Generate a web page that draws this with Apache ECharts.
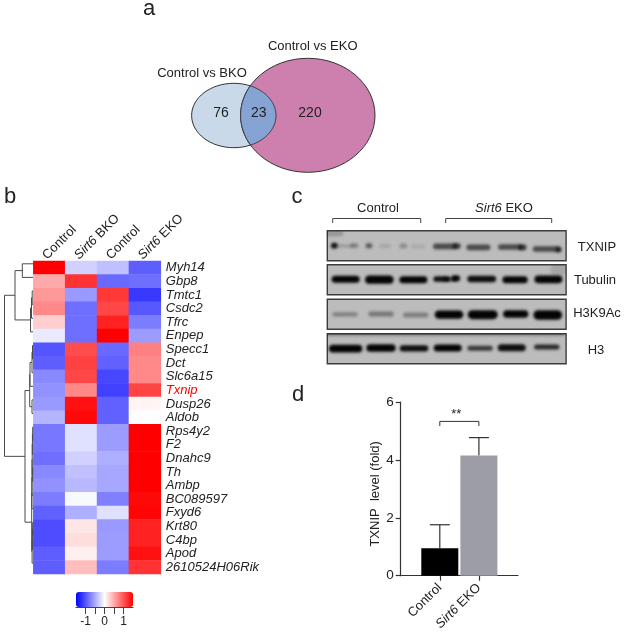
<!DOCTYPE html>
<html>
<head>
<meta charset="utf-8">
<style>html,body{margin:0;padding:0;background:#fff}#c{width:625px;height:636px}</style>
<script src="https://cdn.jsdelivr.net/npm/echarts@6/dist/echarts.min.js"></script>
</head>
<body>
<div id="c"></div>
<script>
// ---- Venn values
const vennTitles = ['Control vs BKO', 'Control vs EKO'];
const vennCounts = [76, 23, 220];

// ---- Heatmap values
const heatColumns = ['Control', 'Sirt6 BKO', 'Control', 'Sirt6 EKO'];
const heatGenes = ['Myh14','Gbp8','Tmtc1','Csdc2','Tfrc','Enpep','Specc1','Dct','Slc6a15','Txnip','Dusp26','Aldob','Rps4y2','F2','Dnahc9','Th','Ambp','BC089597','Fxyd6','Krt80','C4bp','Apod','2610524H06Rik'];
const heatControl1 = [1.5,0.5,0.6,0.7,0.28,-0.13,-1.0,-0.95,-0.7,-0.65,-0.6,-0.44,-0.8,-0.8,-0.85,-0.7,-0.65,-0.77,-0.93,-1.05,-1.05,-0.95,-0.95];
const heatBKO = [-0.27,1.2,-0.6,-0.85,-0.85,-0.85,1.05,1.12,1.08,0.7,1.4,1.45,-0.18,-0.18,-0.27,-0.37,-0.42,-0.04,-0.47,0.15,0.2,0.09,0.39];
const heatControl2 = [-0.37,-0.88,1.17,1.08,1.3,1.5,-0.88,-0.93,-1.08,-1.12,-0.93,-0.93,-0.58,-0.58,-0.47,-0.52,-0.52,-0.75,-0.18,-0.6,-0.58,-0.58,-0.77];
const heatEKO = [-0.95,-0.85,-1.17,-0.98,-0.77,-0.58,0.75,0.7,0.7,1.1,0.06,-0.01,1.5,1.5,1.5,1.5,1.5,1.45,1.47,1.3,1.3,1.4,1.2];
const colorbarTicks = [-1,-0.5,0,0.5,1];
const colorbarLabels = [-1,0,1];

// ---- Row dendrogram: [child a, child b, height]; ids below 23 are genes, others are earlier merges
const dendroMerges = [[0,1,10.7],[2,3,0.8],[24,4,1.5],[25,5,2.5],[23,26,18],[6,7,0.5],[28,8,1],[29,9,3],[10,11,1],[30,31,3.3],
  [12,13,0.3],[33,14,0.6],[15,16,0.3],[34,35,0.8],[36,17,1],[37,18,1.1],[19,20,0.3],[39,21,0.6],[40,22,0.9],[38,41,1.3],[32,42,8],[27,43,28.5]];

// ---- Western blot: band = [centre, row, half width, half height, density]
const blotNames = ['TXNIP', 'Tubulin', 'H3K9Ac', 'H3'];
const blotGroups = ['Control', 'Sirt6 EKO'];
const txnipBands = [[25,8,30,6,.2],[28,45,10,6,.95],[60,46,24,3,.18],[88,45,12,4,.35],[132,45,10,5,.55],[180,46,18,3,.13],[235,46,12,4,.28],[280,47,22,3,.1],
  [360,47,36,6,.62],[395,46,12,6,.7],[460,50,36,6,.62],[555,49,36,6,.62],[592,50,12,6,.75],[665,55,42,6,.62],[700,57,9,5,.65]];
const tubulinBands = [[62,44,42,8,1],[163,45,43,10,1],[265,45,42,8,1],[350,43,25,6,.95],[372,44,20,3,.6],[392,41,13,7,1],[470,43,43,7,.95],[570,45,38,8,1],[670,44,42,9,1],[700,15,25,14,.12]];
const h3k9Bands = [[60,45,38,4,.32],[168,44,38,5,.38],[272,47,38,5,.33],[372,46,43,10,1],[473,46,45,11,1],[572,44,38,9,1],[668,47,43,12,1]];
const h3Bands = [[62,45,50,9,1],[168,43,44,9,1],[267,44,43,7,.95],[368,43,42,8,1],[465,44,38,5,.72],[560,42,42,8,.95],[665,40,38,5,.8],[360,0,360,4,.35]];

// ---- Bar chart values
const barCategories = ['Control', 'Sirt6 EKO'];
const barMeans = [0.95, 4.15];
const barUppers = [1.76, 4.77];
const barTicks = [0, 2, 4, 6];
const barSignificance = '**';

// ---- Layout and styling
const FONT = '"Liberation Sans", Arial, sans-serif';
const INK = '#222';
const heatGrid = {left: 33.3, top: 261, width: 127.5, height: 313};
const blotLeft = 327.3, blotWidth = 238.8, blotTops = [230.7, 264.7, 299.3, 333.7], blotHeight = 30;
const allBands = [txnipBands, tubulinBands, h3k9Bands, h3Bands];
const blotLabelY = [247, 280, 313, 350];
const blotLabelX = [597, 595, 597, 596];
const BLUR_SHIFT = 3000;
const BAND_SPREAD = 2.5;

const heatData = [];
[heatControl1, heatBKO, heatControl2, heatEKO].forEach((col, x) => col.forEach((v, y) => heatData.push([x, y, v])));

// dendrogram node positions from the merge table
const nodeY = heatGenes.map((_, i) => i + 0.5), nodeH = heatGenes.map(() => 0);
dendroMerges.forEach(m => { nodeY.push((nodeY[m[0]] + nodeY[m[1]]) / 2); nodeH.push(m[2]); });

const italicRich = size => ({i: {fontStyle: 'italic', fontFamily: FONT, fontSize: size, color: INK}, n: {fontFamily: FONT, fontSize: size, color: INK}});
const sirtLabel = s => s.startsWith('Sirt6') ? '{i|Sirt6}{n|' + s.slice(5) + '}' : '{n|' + s + '}';

const grids = [
  heatGrid,
  {left: 4, top: 257, width: 29, height: 313},
  {left: 76, top: 592, width: 57, height: 15},
  {left: 400.7, top: 402, width: 117.3, height: 173.7}
];
const xAxes = [
  {type: 'category', gridIndex: 0, position: 'top', data: heatColumns, axisLine: {show: false}, axisTick: {show: false},
   axisLabel: {rotate: -45, margin: -1, verticalAlign: 'bottom', interval: 0, formatter: sirtLabel, rich: italicRich(13)}},
  {type: 'value', gridIndex: 1, min: 0, max: 29, inverse: true, show: false},
  {type: 'value', gridIndex: 2, min: -1.5, max: 1.5, z: 10, splitLine: {show: false},
   axisLine: {show: true, onZero: false, lineStyle: {color: '#444', width: 1}},
   axisTick: {show: true, length: 7, customValues: colorbarTicks, lineStyle: {color: '#444'}},
   axisLabel: {customValues: colorbarLabels, margin: 9, fontFamily: FONT, fontSize: 12, color: INK, showMinLabel: true, showMaxLabel: true}},
  {type: 'category', gridIndex: 3, boundaryGap: false, data: [''].concat(barCategories, ['']),
   axisLine: {lineStyle: {color: '#333', width: 1.2}},
   axisTick: {length: 5, interval: i => i === 1 || i === 2, lineStyle: {color: '#333', width: 1.2}},
   axisLabel: {rotate: 45, margin: 10, interval: i => i === 1 || i === 2, formatter: v => v ? sirtLabel(v) : '', rich: italicRich(13)}}
];
const yAxes = [
  {type: 'category', gridIndex: 0, position: 'right', inverse: true, axisLine: {show: false}, axisTick: {show: false},
   data: heatGenes.map(g => ({value: g, textStyle: {color: g === 'Txnip' ? '#ff0000' : INK}})),
   axisLabel: {margin: 5, interval: 0, fontFamily: FONT, fontStyle: 'italic', fontSize: 13}},
  {type: 'value', gridIndex: 1, min: 0, max: heatGenes.length, inverse: true, show: false},
  {type: 'value', gridIndex: 2, min: 0, max: 1, show: false},
  {type: 'value', gridIndex: 3, min: 0, max: 6, interval: 2, splitLine: {show: false}, name: 'TXNIP  level (fold)', nameLocation: 'middle', nameGap: 19,
   nameTextStyle: {fontFamily: FONT, fontSize: 13, color: INK, padding: [0, 10, 0, 0]},
   axisLine: {show: true, lineStyle: {color: '#333', width: 1.2}}, axisTick: {show: true, length: 5, lineStyle: {color: '#333', width: 1.2}},
   axisLabel: {margin: 7, fontFamily: FONT, fontSize: 13.5, color: INK, customValues: barTicks}}
];

const series = [
  {type: 'heatmap', xAxisIndex: 0, yAxisIndex: 0, data: heatData, silent: true, emphasis: {disabled: true}, itemStyle: {borderWidth: 0}},
  {type: 'custom', xAxisIndex: 1, yAxisIndex: 1, silent: true, data: dendroMerges, encode: {x: 2},
   renderItem: (p, api) => {
     const m = dendroMerges[p.dataIndex];
     const pts = [[nodeH[m[0]], nodeY[m[0]]], [m[2], nodeY[m[0]]], [m[2], nodeY[m[1]]], [nodeH[m[1]], nodeY[m[1]]]].map(q => api.coord(q));
     return {type: 'polyline', shape: {points: pts}, style: {stroke: '#4a4a4a', lineWidth: 1, fill: null}};
   }},
  {type: 'bar', xAxisIndex: 3, yAxisIndex: 3, barWidth: 37, silent: true,
   data: [null, {value: barMeans[0], itemStyle: {color: '#000'}}, {value: barMeans[1], itemStyle: {color: '#9d9da5'}}, null]},
  {type: 'custom', xAxisIndex: 3, yAxisIndex: 3, silent: true, data: barUppers, z: 1,
   renderItem: (p, api) => {
     const i = p.dataIndex, x = i + 1;
     const top = api.coord([x, barUppers[i]]), bot = api.coord([x, barMeans[i]]);
     return {type: 'group', children: [
       {type: 'line', shape: {x1: top[0], y1: top[1], x2: bot[0], y2: bot[1]}, style: {stroke: '#333', lineWidth: 1.2}},
       {type: 'line', shape: {x1: top[0] - 10, y1: top[1], x2: top[0] + 10, y2: top[1]}, style: {stroke: '#333', lineWidth: 1.2}}
     ]};
   }},
  {type: 'custom', xAxisIndex: 3, yAxisIndex: 3, silent: true, data: [[1, 2, 5.17, 5.33]], clip: false,
   renderItem: (p, api) => {
     const a = api.coord([api.value(0), api.value(2)]), b = api.coord([api.value(0), api.value(3)]);
     const c = api.coord([api.value(1), api.value(3)]), d = api.coord([api.value(1), api.value(2)]);
     return {type: 'group', children: [
       {type: 'polyline', shape: {points: [a, b, c, d]}, style: {stroke: '#333', lineWidth: 1, fill: null}},
       {type: 'text', x: (b[0] + c[0]) / 2 - 3, y: b[1] - 7, style: {text: barSignificance, fontFamily: FONT, fontSize: 13, fill: INK, align: 'center', verticalAlign: 'middle'}}
     ]};
   }}
];

// one grid for each blot; each band is only the blurred shadow of a rounded bar kept out of view
allBands.forEach((bands, k) => {
  const gi = grids.length;
  grids.push({left: blotLeft, top: blotTops[k], width: blotWidth, height: blotHeight, show: true, backgroundColor: '#bcbcbc', borderColor: '#3c3c3c', borderWidth: 1.4});
  xAxes.push({type: 'value', gridIndex: gi, min: 7, max: 723, show: false});
  yAxes.push({type: 'value', gridIndex: gi, min: 0, max: 90, inverse: true, show: false});
  series.push({type: 'custom', xAxisIndex: gi, yAxisIndex: gi, silent: true, clip: true, data: bands,
    renderItem: (p, api) => {
      const b = bands[p.dataIndex], c = api.coord([b[0], b[1]]), s = api.size([b[2], b[3] + BAND_SPREAD]);
      const col = 'rgba(4,4,4,' + b[4] + ')';
      return {type: 'rect', shape: {x: c[0] - s[0] - BLUR_SHIFT, y: c[1] - s[1], width: 2 * s[0], height: 2 * s[1], r: s[1]},
        style: {fill: '#000', shadowColor: col, shadowBlur: 3, shadowOffsetX: BLUR_SHIFT}};
    }});
});

// Venn geometry
const E1 = {cx: 233.8, cy: 115.5, rx: 42.2, ry: 32.2}, E2 = {cx: 307.8, cy: 115.3, rx: 67.2, ry: 57};
const inside = (p, e) => ((p[0] - e.cx) / e.rx) ** 2 + ((p[1] - e.cy) / e.ry) ** 2 <= 1;
const lens = [];
for (let a = 0; a < 360; a += 1) { const t = a * Math.PI / 180, p = [E1.cx + E1.rx * Math.cos(t), E1.cy + E1.ry * Math.sin(t)]; if (inside(p, E2)) lens.push(p); }
for (let a = 0; a < 360; a += 1) { const t = a * Math.PI / 180, p = [E2.cx + E2.rx * Math.cos(t), E2.cy + E2.ry * Math.sin(t)]; if (inside(p, E1)) lens.push(p); }
const lc = lens.reduce((s, p) => [s[0] + p[0] / lens.length, s[1] + p[1] / lens.length], [0, 0]);
lens.sort((p, q) => Math.atan2(p[1] - lc[1], p[0] - lc[0]) - Math.atan2(q[1] - lc[1], q[0] - lc[0]));

const txt = (x, y, text, size, extra) => ({type: 'text', x, y, silent: true, z: 20, style: Object.assign({text, fontFamily: FONT, fontSize: size, fill: INK, align: 'center', verticalAlign: 'middle'}, extra || {})});
const venLine = {stroke: '#333', lineWidth: 1};
const bracket = (x1, x2) => ({type: 'polyline', silent: true, shape: {points: [[x1, 223], [x1, 218.5], [x2, 218.5], [x2, 223]]}, style: {stroke: '#444', lineWidth: 1, fill: null}});

const graphic = [
  {type: 'ellipse', silent: true, shape: E1, style: Object.assign({fill: '#c9d9e9'}, venLine)},
  {type: 'ellipse', silent: true, shape: E2, style: Object.assign({fill: '#cd80ae'}, venLine)},
  {type: 'polygon', silent: true, shape: {points: lens}, style: Object.assign({fill: '#85a4d4'}, venLine)},
  txt(202, 73.7, vennTitles[0], 13), txt(312.7, 46.7, vennTitles[1], 13),
  txt(221, 113.5, String(vennCounts[0]), 14), txt(258.7, 113.5, String(vennCounts[1]), 14), txt(310, 113.5, String(vennCounts[2]), 14),
  txt(149, 9, 'a', 22), txt(10, 197, 'b', 22), txt(297, 197, 'c', 22), txt(298, 395, 'd', 22),
  bracket(332.7, 420.7), bracket(445.7, 551.7),
  txt(378, 208, blotGroups[0], 13),
  txt(504, 208, '{i|Sirt6}{n| EKO}', 13, {rich: {i: {fontStyle: 'italic', fontFamily: FONT, fontSize: 13, fill: INK}, n: {fontFamily: FONT, fontSize: 13, fill: INK}}})
].concat(blotNames.map((n, i) => txt(blotLabelX[i], blotLabelY[i], n, 13)));

echarts.init(document.getElementById('c'), null, {renderer: 'canvas'}).setOption({
  backgroundColor: '#fff',
  animation: false,
  grid: grids, xAxis: xAxes, yAxis: yAxes, series, graphic,
  visualMap: {
    type: 'continuous', seriesIndex: 0, min: -1.5, max: 1.5, calculable: false, hoverLink: false, orient: 'horizontal',
    left: 76, top: 592, padding: 0, itemWidth: 15, itemHeight: 57, text: null, showLabel: false, z: 5,
    inRange: {color: ['#0000ff', '#ffffff', '#ff0000']}
  }
});
</script>
</body>
</html>
